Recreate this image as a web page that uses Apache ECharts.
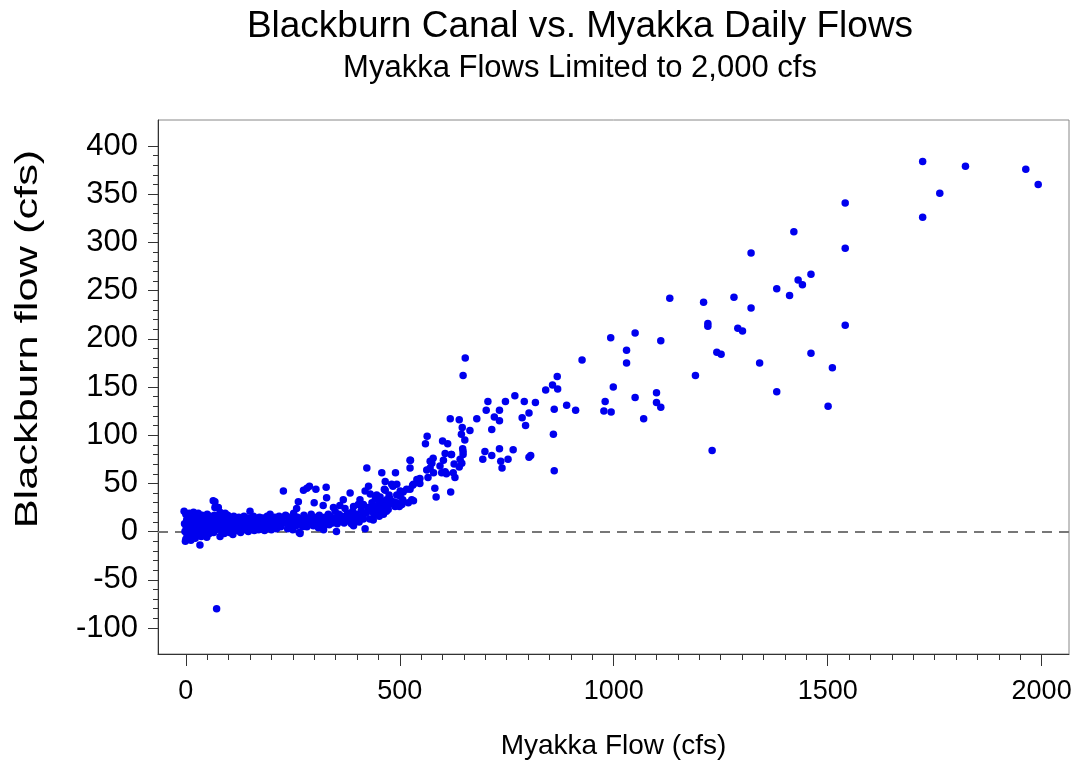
<!DOCTYPE html>
<html lang="en">
<head>
    <meta charset="UTF-8">
    <title>Blackburn Canal vs. Myakka Daily Flows</title>
    <script src="https://cdn.jsdelivr.net/npm/echarts@6.0.0/dist/echarts.min.js"></script>
    <style>
        html, body { margin: 0; padding: 0; background: #fff; }
        #chart { width: 1079px; height: 765px; }
    </style>
</head>
<body>
    <div id="chart"></div>
    <script>
        // [Myakka flow, Blackburn flow] pairs
        const lowFlows = [
            [-4,21],[0,18],[2,12],[-3,8],[1,4],[-2,0],[3,-4],[0,-8],[-1,-10],[4,15],[6,9],[5,2],[7,-6],[8,19],[10,13],[9,6],[11,-2],[12,-9],
            [14,17],[15,10],[16,3],[13,-4],[18,20],[19,14],[20,7],[21,0],[22,-7],[24,16],[25,11],[26,4],[27,-3],[29,19],[30,8],[31,1],
            [33,-14],[34,13],[35,5],[36,-5],[38,17],[39,10],[40,2],[42,-3],[44,15],[45,8],[46,0],[48,12],[49,-6],[50,18],[52,5],[54,10],
            [55,-2],[57,16],[58,3],[60,12],[62,7],[64,32],[65,-1],[67,17],[68,25],[68,31],[70,9],[71,2],[72,-80],[74,14],[76,25],[78,6],
            [80,-5],[80,20],[82,11],[84,1],[86,16],[88,7],[90,-2],[92,19],[94,12],[96,4],[98,17],[100,8],[102,-1],[104,14],[106,6],[108,11],
            [110,-3],[112,16],[114,3],[116,9],[118,13],[120,1],[122,6],[124,15],[126,10],[128,-1],[130,4],[132,12],[134,8],[136,16],[138,2],
            [140,11],[142,6],[144,14],[146,0],[148,9],[150,21],[152,4],[154,12],[156,7],[158,16],[160,1],[162,10],[164,5],[166,13],[168,8],
            [170,2],[172,15],[174,6],[176,11],[178,3],[180,14],[182,9],[184,1],[186,12],[188,6],[190,16],[192,4],[194,10],[196,7],[197,18],
            [200,2],[202,13],[204,8],[206,5],[208,15],[210,10],[212,3],[214,12],[216,7],[218,16],[220,11]
        ];
        const midFlows = [
            [222,5],[225,13],[228,42],[230,9],[233,17],[236,16],[238,3],[241,11],[244,7],[247,14],[250,2],[252,19],[255,10],[258,6],[259,24],
            [261,15],[263,31],[265,-1],[267,-2],[268,9],[270,13],[273,5],[275,43],[276,17],[279,11],[281,7],[283,45],[283,5],[286,14],[289,47],
            [290,9],[293,18],[296,12],[298,6],[300,30],[301,15],[304,44],[305,10],[308,13],[310,4],[312,17],[315,8],[318,4],[320,12],[321,27],
            [322,2],[323,6],[325,15],[328,46],[329,35],[330,10],[333,18],[335,7],[337,16],[340,12],[343,9],[345,25],[347,14],[349,21],[352,0],
            [354,8],[356,13],[358,18],[360,27],[362,11],[365,16],[368,33],[370,9],[372,24],[375,14],[378,19],[380,11],[384,16],[384,40],[387,8],
            [390,21],[392,26],[392,6],[395,12],[398,18],[400,13],[403,28],[405,10],[407,33],[410,22],[412,16],[415,28],[415,13],[419,42],[419,3],
            [421,19],[423,66],[425,25],[427,47],[430,13],[431,39],[433,21],[435,30],[438,12],[438,25],[440,18],[443,34],[446,38],[448,22],[450,28],
            [452,16],[454,30],[454,36],[457,24],[458,61],[460,20],[462,18],[462,30],[464,44],[466,52],[466,43],[469,33],[469,21],[471,27],[473,23],
            [475,38],[477,34],[480,29]
        ];
        const riseFlows = [
            [481,49],[484,47],[485,31],[489,26],[490,61],[493,49],[493,38],[493,30],[499,26],[501,37],[501,42],[505,28],[507,33],[508,41],[516,44],
            [520,30],[524,74],[524,66],[524,44],[525,74],[528,33],[530,48],[532,32],[532,49],[540,54],[547,50],[547,55],[560,91],[563,64],[564,99],
            [566,56],[571,66],[571,73],[575,71],[578,76],[579,61],[582,45],[585,36],[594,68],[598,61],[600,94],[602,74],[606,81],[606,62],[609,60],
            [612,91],[618,117],[619,41],[620,80],[621,80],[625,61],[627,70],[629,56],[639,116],[639,67],[641,75],[644,101],[645,71],[646,108],
            [647,86],[648,80],[648,83],[648,162],[652,95],[653,180],[664,105],[680,117],[694,75],[699,83],[702,126],[706,135],[715,106],[715,79],
            [721,119],[733,126],[733,115],[733,86],[736,73],[739,66],[747,135],[753,75],[765,85],[769,141],[786,118],[791,135],[794,110],[802,123],
            [802,77],[806,79],[817,134],[841,147],[857,152],[859,101],[861,127],[861,63],[868,161],[869,148],[890,131]
        ];
        const highFlows = [
            [911,126],[926,178],[977,125],[980,135],[993,201],[994,124],[999,150],[1030,188],[1030,175],[1050,206],[1050,139],[1070,117],
            [1100,144],[1100,134],[1110,198],[1110,129],[1131,242],[1191,162],[1210,238],[1220,216],[1220,213],[1230,84],[1241,186],[1251,184],
            [1281,243],[1290,211],[1301,208],[1321,289],[1321,232],[1341,175],[1381,252],[1381,145],[1411,245],[1421,311],[1431,261],[1441,256],
            [1461,267],[1461,185],[1501,130],[1511,170],[1541,341],[1541,294],[1541,214],[1722,384],[1722,326],[1762,351],[1822,379],[1963,376],
            [1992,360]
        ];

        const xMajor = [0, 500, 1000, 1500, 2000];
        const xMinor = [];
        for (let v = 0; v <= 2000; v += 50) xMinor.push(v);
        const yMajor = [-100, -50, 0, 50, 100, 150, 200, 250, 300, 350, 400];
        const yMinor = [];
        for (let v = -100; v <= 400; v += 10) yMinor.push(v);

        const FONT = '"Liberation Sans", Arial, sans-serif';
        const X_MIN = -65, X_MAX = 2064, Y_MIN = -127, Y_MAX = 427;

        const chart = echarts.init(document.getElementById('chart'), null, { renderer: 'canvas' });

        function dots(name, data) {
            return {
                name: name,
                type: 'scatter',
                data: data,
                symbol: 'circle',
                symbolSize: 7.5,
                itemStyle: { color: '#0000ee', opacity: 1 },
                silent: true
            };
        }

        const series = [
            dots('low', lowFlows),
            dots('mid', midFlows),
            dots('rise', riseFlows),
            dots('high', highFlows)
        ];
        // dashed zero line, drawn under the dots
        series[0].markLine = {
            silent: true,
            symbol: 'none',
            z: 1,
            label: { show: false },
            lineStyle: { color: '#777', type: [10, 7], width: 2 },
            data: [{ yAxis: 0 }]
        };

        const plain = v => String(v);

        const option = {
            animation: false,
            backgroundColor: '#fff',
            title: [{
                text: 'Blackburn Canal vs. Myakka Daily Flows',
                left: 575,
                textAlign: 'center',
                top: 3,
                textStyle: { fontFamily: FONT, fontSize: 37, fontWeight: 'normal', color: '#000' }
            }, {
                text: 'Myakka Flows Limited to 2,000 cfs',
                left: 575,
                textAlign: 'center',
                top: 48,
                textStyle: { fontFamily: FONT, fontSize: 31, fontWeight: 'normal', color: '#000' }
            }],
            grid: {
                left: 158, right: 10, top: 120, bottom: 110,
                show: true,
                borderColor: '#888',
                borderWidth: 1
            },
            xAxis: [{
                type: 'value',
                min: X_MIN, max: X_MAX,
                name: 'Myakka Flow (cfs)',
                nameLocation: 'middle',
                nameGap: 78,
                nameTextStyle: { fontFamily: FONT, fontSize: 28, color: '#000' },
                axisLine: { show: true, onZero: false, lineStyle: { color: '#333' } },
                axisTick: { show: true, customValues: xMajor, length: 12, lineStyle: { color: '#333' } },
                axisLabel: { customValues: xMajor, formatter: plain, fontFamily: FONT, fontSize: 27, color: '#000', margin: 24 },
                splitLine: { show: false }
            }, {
                type: 'value',
                min: X_MIN, max: X_MAX,
                position: 'bottom',
                axisLine: { show: false, onZero: false },
                axisTick: { show: true, customValues: xMinor, length: 6, lineStyle: { color: '#333' } },
                axisLabel: { show: false },
                splitLine: { show: false }
            }],
            yAxis: [{
                type: 'value',
                min: Y_MIN, max: Y_MAX,
                axisLine: { show: true, onZero: false, lineStyle: { color: '#333' } },
                axisTick: { show: true, customValues: yMajor, length: 10, lineStyle: { color: '#333' } },
                axisLabel: { customValues: yMajor, formatter: plain, fontFamily: FONT, fontSize: 31, color: '#000', margin: 20 },
                splitLine: { show: false }
            }, {
                type: 'value',
                min: Y_MIN, max: Y_MAX,
                position: 'left',
                axisLine: { show: false, onZero: false },
                axisTick: { show: true, customValues: yMinor, length: 5, lineStyle: { color: '#333' } },
                axisLabel: { show: false },
                splitLine: { show: false }
            }],
            graphic: [{
                type: 'text',
                x: 28,
                y: 339,
                rotation: Math.PI / 2,
                scaleX: 1.4,
                style: {
                    text: 'Blackburn flow (cfs)',
                    fontFamily: FONT,
                    fontSize: 31,
                    fill: '#000',
                    align: 'center',
                    verticalAlign: 'middle',
                    textAlign: 'center',
                    textVerticalAlign: 'middle'
                }
            }],
            series: series
        };

        chart.setOption(option);
    </script>
</body>
</html>
